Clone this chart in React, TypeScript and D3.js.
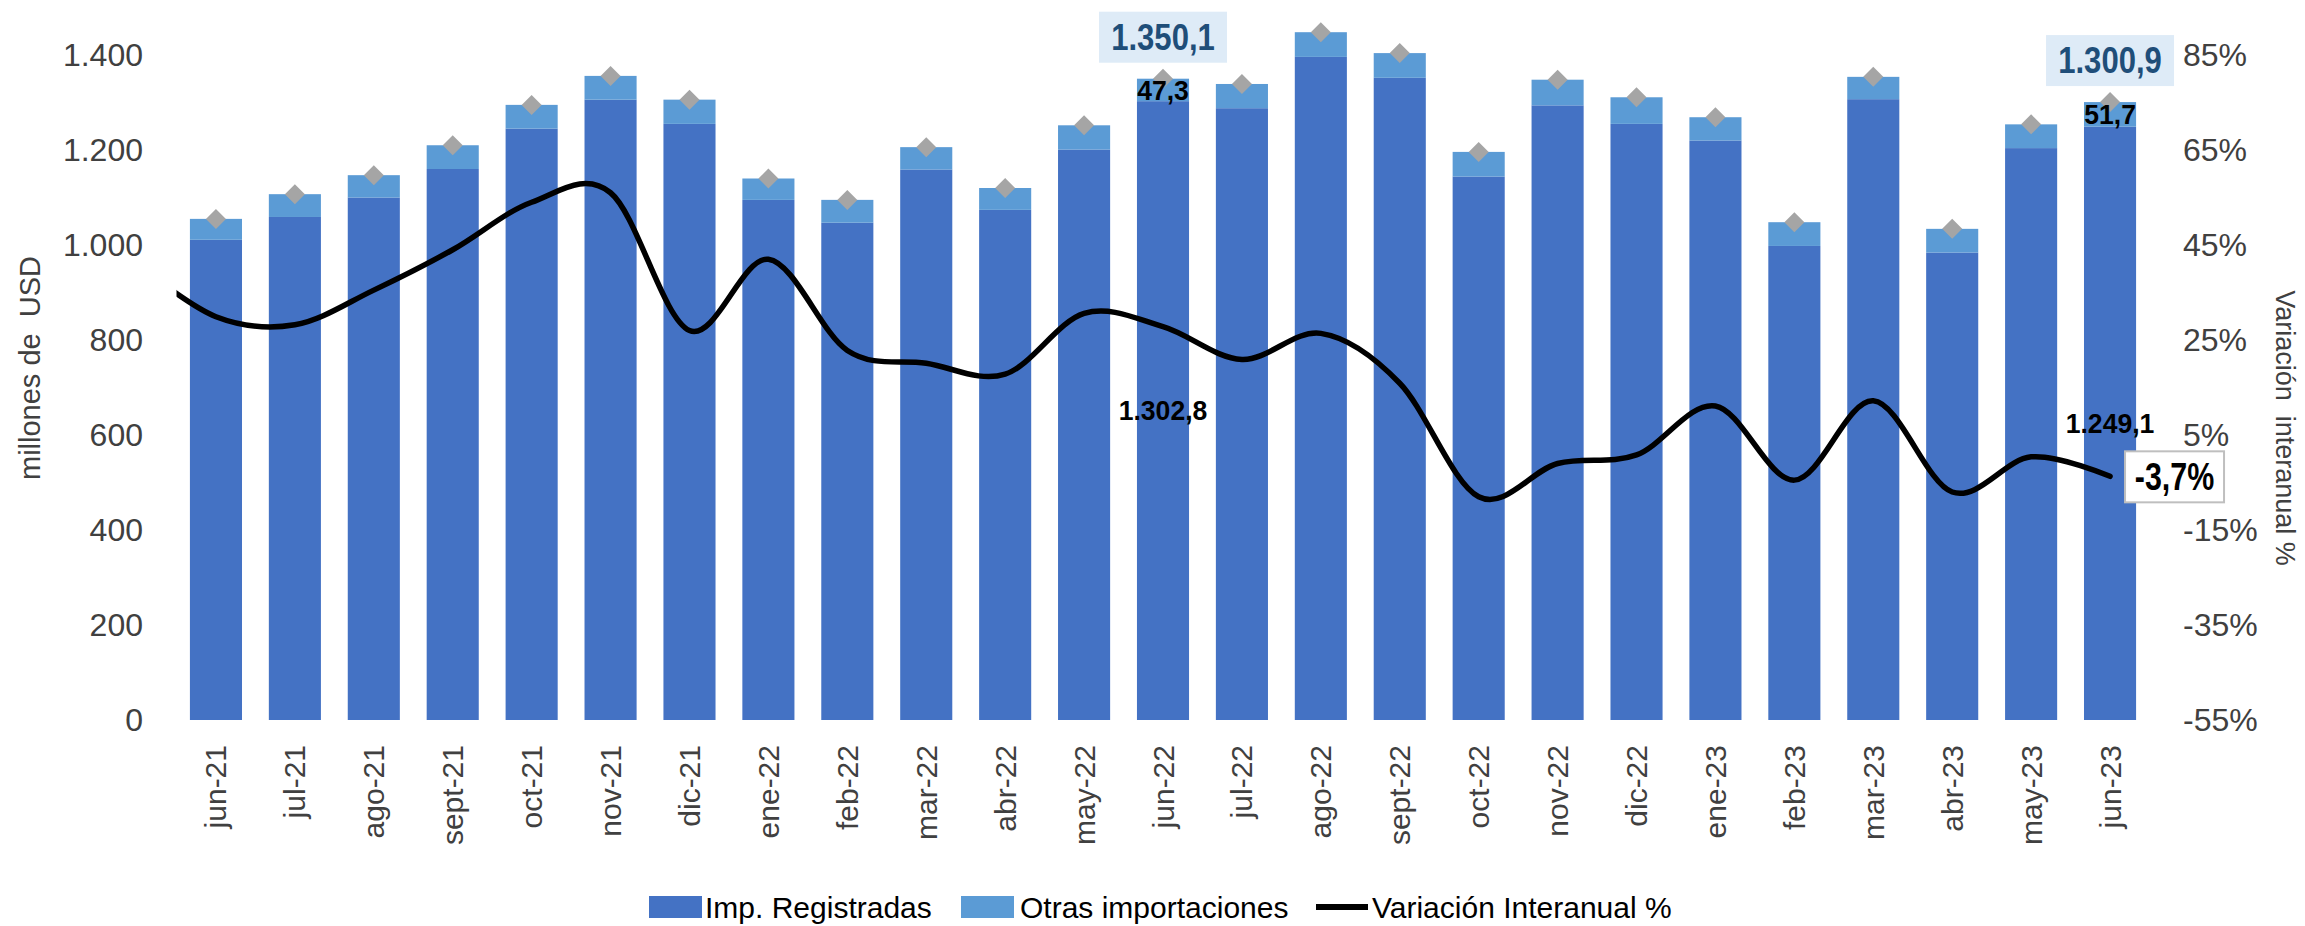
import { useRef, useEffect } from 'react';
import * as d3 from 'd3';

const months = [
  'jun-21', 'jul-21', 'ago-21', 'sept-21', 'oct-21', 'nov-21', 'dic-21',
  'ene-22', 'feb-22', 'mar-22', 'abr-22', 'may-22', 'jun-22', 'jul-22',
  'ago-22', 'sept-22', 'oct-22', 'nov-22', 'dic-22', 'ene-23', 'feb-23',
  'mar-23', 'abr-23', 'may-23', 'jun-23',
];

// millones de USD
const impRegistradas = [
  1011, 1059, 1100, 1160, 1245, 1306, 1255, 1095, 1047, 1159, 1074, 1201, 1302.8,
  1288, 1396, 1352, 1144, 1294, 1255, 1220, 998, 1307, 984, 1204, 1249.1,
];
const otrasImportaciones = [
  44, 48, 47, 50, 50, 50, 51, 45, 48, 47, 46, 51, 47.3,
  51, 52, 52, 52, 54, 56, 49, 50, 47, 50, 50, 51.7,
];
const totalImportaciones = [
  1055, 1107, 1147, 1210, 1295, 1356, 1306, 1140, 1095, 1206, 1120, 1252, 1350.1,
  1339, 1448, 1404, 1196, 1348, 1311, 1269, 1048, 1354, 1034, 1254, 1300.9,
];

// Variación interanual %
const variacion = [
  29.9, 28.2, 35.5, 44, 54, 56, 27, 42, 22.8, 20.1, 17.8, 30.6, 27.8,
  20.9, 26.4, 15.9, -8, -1, 0.8, 11.1, -4.5, 12.2, -7, 0.4, -3.7,
];
// mes anterior (may-21), sólo para el tramo inicial de la curva
const variacionPrevia = 41;

const leftTicks = [0, 200, 400, 600, 800, 1000, 1200, 1400];
const rightTicks = [-55, -35, -15, 5, 25, 45, 65, 85];
const destacados = ['jun-22', 'jun-23'];

const W = 2305;
const H = 926;

const locale = d3.formatLocale({ decimal: ',', thousands: '.', grouping: [3], currency: ['', ''], minus: '-' });
const fmtInt = locale.format(',.0f');
const fmt1 = locale.format(',.1f');

const FONT = "'Liberation Sans', Arial, sans-serif";

export default function App() {
  const svgRef = useRef<SVGSVGElement>(null);

  useEffect(() => {
    if (!svgRef.current) return;
    const svg = d3.select(svgRef.current);
    svg.selectAll('*').remove();

    const x0 = 176.5;
    const x1 = 2149.5;
    const yTop = 55;
    const yBottom = 720;

    const x = d3.scaleBand<string>().domain(months).range([x0, x1]).paddingInner(0.34).paddingOuter(0.17);
    const y = d3.scaleLinear().domain([0, 1400]).range([yBottom, yTop]);
    const yR = d3.scaleLinear().domain([-55, 85]).range([yBottom, yTop]);
    const cx = (m: string) => (x(m) as number) + x.bandwidth() / 2;

    const rows = months.map((m, i) => ({
      m,
      reg: impRegistradas[i],
      otras: otrasImportaciones[i],
      total: totalImportaciones[i],
      v: variacion[i],
    }));

    // bars
    const g = svg.append('g');
    g.selectAll('.reg')
      .data(rows)
      .join('rect')
      .attr('x', (d) => x(d.m) as number)
      .attr('width', x.bandwidth())
      .attr('y', (d) => y(d.reg))
      .attr('height', (d) => y(0) - y(d.reg))
      .attr('fill', '#4472c4');

    g.selectAll('.otras')
      .data(rows)
      .join('rect')
      .attr('x', (d) => x(d.m) as number)
      .attr('width', x.bandwidth())
      .attr('y', (d) => y(d.total))
      .attr('height', (d) => y(d.reg) - y(d.total))
      .attr('fill', '#5b9bd5');

    // total markers (diamonds)
    g.selectAll('.dia')
      .data(rows)
      .join('path')
      .attr('d', (d) => {
        const px = cx(d.m);
        const py = y(d.total);
        const r = 10;
        return `M${px},${py - r}L${px + r},${py}L${px},${py + r}L${px - r},${py}Z`;
      })
      .attr('fill', '#a5a5a5');

    // variation line
    svg.append('defs')
      .append('clipPath')
      .attr('id', 'plotClip')
      .append('rect')
      .attr('x', x0)
      .attr('y', 0)
      .attr('width', x1 - x0)
      .attr('height', H);

    const pts: [number, number][] = [[cx(months[0]) - x.step(), yR(variacionPrevia)]];
    rows.forEach((d) => pts.push([cx(d.m), yR(d.v)]));

    svg.append('path')
      .datum(pts)
      .attr('clip-path', 'url(#plotClip)')
      .attr('fill', 'none')
      .attr('stroke', '#000')
      .attr('stroke-width', 5.5)
      .attr('stroke-linecap', 'round')
      .attr('d', d3.line().curve(d3.curveCardinal.tension(0)));

    // left axis
    svg.append('g')
      .selectAll('text')
      .data(leftTicks)
      .join('text')
      .attr('x', 143)
      .attr('y', (d) => y(d))
      .attr('dy', '0.35em')
      .attr('text-anchor', 'end')
      .attr('font-family', FONT)
      .attr('font-size', 32)
      .attr('fill', '#404040')
      .text((d) => fmtInt(d));

    // right axis
    svg.append('g')
      .selectAll('text')
      .data(rightTicks)
      .join('text')
      .attr('x', 2183)
      .attr('y', (d) => yR(d))
      .attr('dy', '0.35em')
      .attr('text-anchor', 'start')
      .attr('font-family', FONT)
      .attr('font-size', 32)
      .attr('fill', '#404040')
      .text((d) => `${d}%`);

    // x labels
    svg.append('g')
      .selectAll('text')
      .data(months)
      .join('text')
      .attr('transform', (d) => `translate(${cx(d)},745) rotate(-90)`)
      .attr('dy', '0.35em')
      .attr('text-anchor', 'end')
      .attr('font-family', FONT)
      .attr('font-size', 30)
      .attr('fill', '#404040')
      .text((d) => d);

    // axis titles
    svg.append('text')
      .attr('transform', 'translate(30,368) rotate(-90)')
      .attr('dy', '0.35em')
      .attr('text-anchor', 'middle')
      .attr('font-family', FONT)
      .attr('font-size', 29)
      .attr('fill', '#404040')
      .style('white-space', 'pre')
      .text('millones de  USD');

    svg.append('text')
      .attr('transform', 'translate(2285,428) rotate(90)')
      .attr('dy', '0.35em')
      .attr('text-anchor', 'middle')
      .attr('font-family', FONT)
      .attr('font-size', 27)
      .attr('fill', '#404040')
      .style('white-space', 'pre')
      .text('Variación  interanual %');

    // data labels for highlighted months
    const hi = rows.filter((d) => destacados.includes(d.m));

    const boldLabel = (px: number, py: number, txt: string, size: number, color: string, sx: number) =>
      svg.append('text')
        .attr('transform', `translate(${px},${py}) scale(${sx},1)`)
        .attr('dy', '0.35em')
        .attr('text-anchor', 'middle')
        .attr('font-family', FONT)
        .attr('font-weight', 'bold')
        .attr('font-size', size)
        .attr('fill', color)
        .text(txt);

    hi.forEach((d) => {
      const px = cx(d.m);
      boldLabel(px, (y(0) + y(d.reg)) / 2, fmt1(d.reg), 28, '#000', 0.95);
      boldLabel(px, (y(d.reg) + y(d.total)) / 2, fmt1(d.otras), 28, '#000', 0.95);
      const ty = y(d.total) - 42;
      svg.append('rect')
        .attr('x', px - 64)
        .attr('y', ty - 25)
        .attr('width', 128)
        .attr('height', 51)
        .attr('fill', '#deebf7');
      boldLabel(px, ty, fmt1(d.total), 37, '#1f4e79', 0.84);
    });

    // last variation label
    const last = rows[rows.length - 1];
    const lx = cx(last.m) + 15;
    const ly = yR(last.v);
    svg.append('rect')
      .attr('x', lx)
      .attr('y', ly - 25)
      .attr('width', 99)
      .attr('height', 51)
      .attr('fill', '#fff')
      .attr('stroke', '#bfbfbf')
      .attr('stroke-width', 2);
    boldLabel(lx + 49.5, ly, `${fmt1(last.v)}%`, 38, '#000', 0.8);

    // legend
    const lg = svg.append('g').attr('font-family', FONT).attr('font-size', 30).attr('fill', '#000');
    const ly0 = 907;
    lg.append('rect').attr('x', 649).attr('y', ly0 - 11).attr('width', 53).attr('height', 22).attr('fill', '#4472c4');
    lg.append('text').attr('x', 705).attr('y', ly0).attr('dy', '0.35em').text('Imp. Registradas');
    lg.append('rect').attr('x', 961).attr('y', ly0 - 11).attr('width', 53).attr('height', 22).attr('fill', '#5b9bd5');
    lg.append('text').attr('x', 1020).attr('y', ly0).attr('dy', '0.35em').text('Otras importaciones');
    lg.append('line').attr('x1', 1316).attr('x2', 1368).attr('y1', ly0).attr('y2', ly0).attr('stroke', '#000').attr('stroke-width', 6);
    lg.append('text').attr('x', 1372).attr('y', ly0).attr('dy', '0.35em').text('Variación Interanual %');
  }, []);

  return (
    <div style={{ position: 'absolute', left: 0, top: 0, background: '#fff' }}>
      <svg ref={svgRef} width={W} height={H} style={{ display: 'block' }} />
    </div>
  );
}
